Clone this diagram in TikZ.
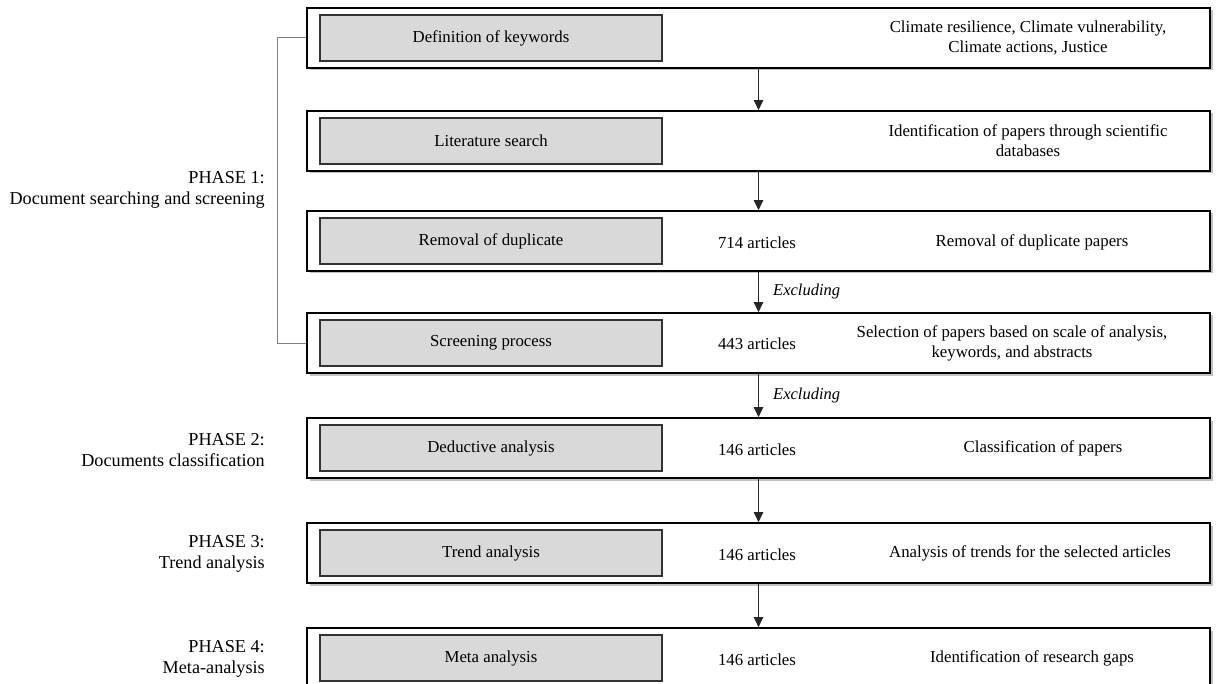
\documentclass[tikz,border=0pt]{standalone}
\usepackage{fontspec}
\setmainfont{Liberation Serif}
\usetikzlibrary{shadows,arrows.meta}
\begin{document}
\begin{tikzpicture}[x=1pt,y=-1pt,
  every node/.style={font=\fontsize{16.8}{20}\selectfont, inner sep=0pt},
  outerbox/.style={draw=black, line width=1.8pt, fill=white, minimum width=903, minimum height=60,
     drop shadow={shadow xshift=2.5pt, shadow yshift=-2.5pt, fill=black!40, opacity=0.6}},
  innerbox/.style={draw=black!80, line width=1.4pt, fill=black!15, minimum width=342, minimum height=46},
  desc/.style={align=center},
  arr/.style={draw=black!85, line width=0.8pt, -{Triangle[length=10pt,width=9.5pt]}},
  phase/.style={align=right, anchor=east, font=\fontsize{18.2}{21.5}\selectfont},
  bracket/.style={draw=black!50, line width=1pt},
  exclabel/.style={anchor=west, font=\fontsize{16.5}{20}\selectfont\itshape}
]
\clip (0,0) rectangle (1217,684);
\fill[white] (0,0) rectangle (1217,684);

% outer boxes
\node[outerbox] (o1) at (758.5,38) {};
\node[outerbox] (o2) at (758.5,141) {};
\node[outerbox] (o3) at (758.5,241) {};
\node[outerbox] (o4) at (758.5,343) {};
\node[outerbox] (o5) at (758.5,448) {};
\node[outerbox] (o6) at (758.5,553) {};
\node[outerbox] (o7) at (758.5,658) {};

% inner boxes
\node[innerbox] (i1) at (491,38) {Definition of keywords};
\node[innerbox] (i2) at (491,141) {Literature search};
\node[innerbox] (i3) at (491,241) {Removal of duplicate};
\node[innerbox] (i4) at (491,343) {Screening process};
\node[innerbox] (i5) at (491,448) {Deductive analysis};
\node[innerbox] (i6) at (491,553) {Trend analysis};
\node[innerbox] (i7) at (491,658) {Meta analysis};

% article counts
\node (a3) at (757,243) {714 articles};
\node (a4) at (757,344) {443 articles};
\node (a5) at (757,450) {146 articles};
\node (a6) at (757,555) {146 articles};
\node (a7) at (757,660) {146 articles};

% descriptions
\node[desc] (d1) at (1028,38) {Climate resilience, Climate vulnerability,\\Climate actions, Justice};
\node[desc] (d2) at (1028,141) {Identification of papers through scientific\\databases};
\node[desc] (d3) at (1032,242) {Removal of duplicate papers};
\node[desc] (d4) at (1012,343) {Selection of papers based on scale of analysis,\\keywords, and abstracts};
\node[desc] (d5) at (1043,448) {Classification of papers};
\node[desc] (d6) at (1030,553) {Analysis of trends for the selected articles};
\node[desc] (d7) at (1032,658) {Identification of research gaps};

% arrows
\draw[arr] (o1.south) -- (o2.north);
\draw[arr] (o2.south) -- (o3.north);
\draw[arr] (o3.south) -- (o4.north);
\draw[arr] (o4.south) -- (o5.north);
\draw[arr] (o5.south) -- (o6.north);
\draw[arr] (o6.south) -- (o7.north);

% excluding labels
\node[exclabel] (e1) at (773,292) {Excluding};
\node[exclabel] (e2) at (773,396) {Excluding};

% bracket for phase 1
\coordinate (bk) at (277,0);
\draw[bracket] (o1.west) -- (o1.west -| bk) -- (o4.west -| bk) -- (o4.west);

% phase labels
\node[phase] (p1) at (265,190) {PHASE 1:\\Document searching and screening};
\node[phase] (p2) at (265,450) {PHASE 2:\\Documents classification};
\node[phase] (p3) at (265,554) {PHASE 3:\\Trend analysis};
\node[phase] (p4) at (265,659) {PHASE 4:\\Meta-analysis};
\end{tikzpicture}
\end{document}
